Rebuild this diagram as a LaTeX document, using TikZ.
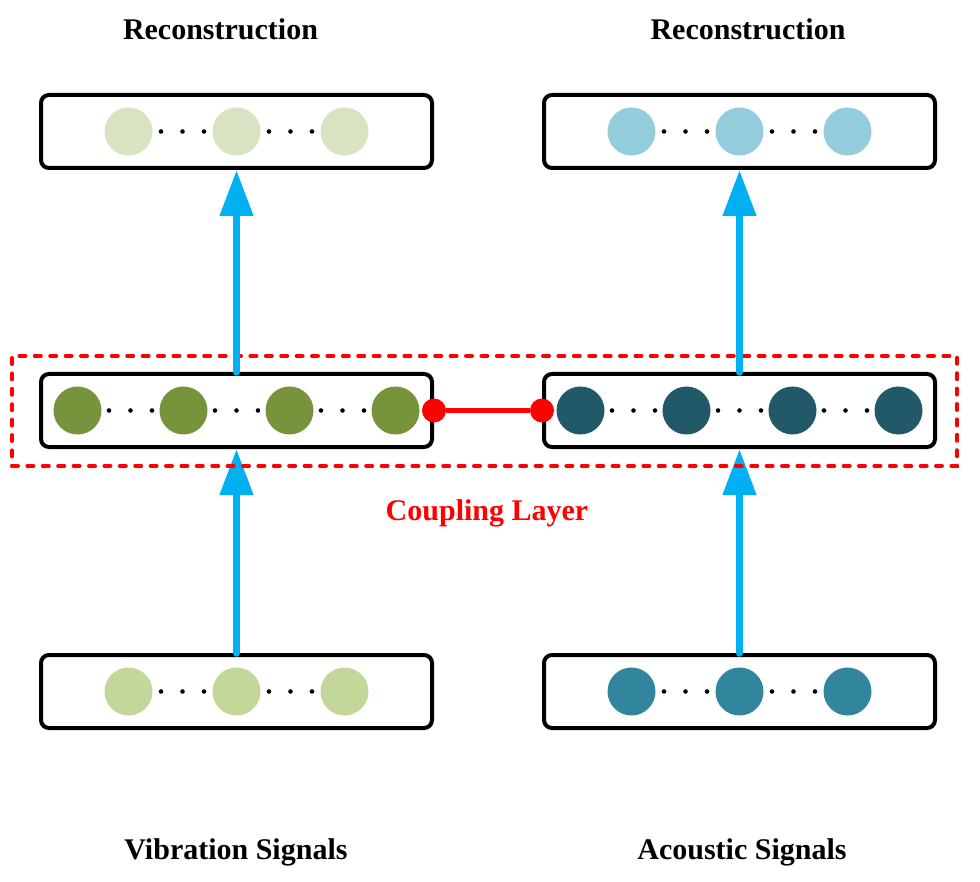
\documentclass[tikz,border=0pt]{standalone}
\usepackage{fontspec}
\setmainfont{Liberation Serif}
\usetikzlibrary{arrows.meta}
\definecolor{arrowblue}{HTML}{00B0F0}
\definecolor{gTop}{HTML}{D7E3C1}
\definecolor{gMid}{HTML}{77933C}
\definecolor{gBot}{HTML}{C4D79B}
\definecolor{bTop}{HTML}{93CDDC}
\definecolor{bMid}{HTML}{215968}
\definecolor{bBot}{HTML}{31859C}
\definecolor{cred}{HTML}{FF0000}
\begin{document}
\begin{tikzpicture}[x=1pt,y=-1pt,
  box/.style={draw=black, line width=4pt, rounded corners=8pt, minimum width=391pt, minimum height=73pt, inner sep=0pt, fill=white},
  unit/.style={circle, inner sep=0pt, minimum size=48pt},
  reddot/.style={circle, fill=cred, inner sep=0pt, minimum size=24pt},
  flow/.style={draw=arrowblue, line width=7.5pt, line cap=round, -{Triangle[width=32pt,length=46pt]}},
  redline/.style={draw=cred, line width=5pt},
  coupbox/.style={draw=cred, line width=4pt, dash pattern=on 6pt off 9.4pt, line cap=round, minimum width=945pt, minimum height=110pt, inner sep=0pt},
  lbl/.style={font=\bfseries\fontsize{30}{36}\selectfont, anchor=base, inner sep=0pt},
  dotty/.style={fill=black}
]
\useasboundingbox (0,0) rectangle (980,882);

% boxes
\node[box] (tl) at (236.5,131.5) {};
\node[box] (tr) at (739.5,131.5) {};
\node[box] (ml) at (236.5,410.5) {};
\node[box] (mr) at (739.5,410.5) {};
\node[box] (bl) at (236.5,691.5) {};
\node[box] (br) at (739.5,691.5) {};

% top & bottom rows (three units)
\foreach \row/\y/\lc/\rc in {t/131.5/gTop/bTop, b/691.5/gBot/bBot}{
  \foreach \i/\dx in {1/-108,2/0,3/108}{
    \node[unit, fill=\lc] (\row l\i) at (236.5+\dx,\y) {};
    \node[unit, fill=\rc] (\row r\i) at (739.5+\dx,\y) {};
  }
  \foreach \cx in {236.5,739.5}{
    \foreach \m in {-54,54}{
      \foreach \d in {-21.5,0,21.5}{
        \fill[dotty] (\cx+\m+\d,\y) circle (2.3pt);
      }
    }
  }
}

% middle rows (four units)
\foreach \i/\dx in {1/-159,2/-53,3/53,4/159}{
  \node[unit, fill=gMid] (ml\i) at (236.5+\dx,410.5) {};
  \node[unit, fill=bMid] (mr\i) at (739.5+\dx,410.5) {};
}
\foreach \cx in {236.5,739.5}{
  \foreach \m in {-106,0,106}{
    \foreach \d in {-21.5,0,21.5}{
      \fill[dotty] (\cx+\m+\d,410.5) circle (2.3pt);
    }
  }
}

% lower arrows
\draw[flow] (bl.north) -- (ml.south);
\draw[flow] (br.north) -- (mr.south);

% coupling layer
\node[coupbox] (coup) at (484.5,411) {};
\node[reddot] (rl) at (ml.east) {};
\node[reddot] (rr) at (mr.west) {};
\draw[redline] (rl) -- (rr);

% upper arrows
\draw[flow] (ml.north) -- (tl.south);
\draw[flow] (mr.north) -- (tr.south);

% labels
\node[lbl] (rec1) at (220.5,40) {Reconstruction};
\node[lbl] (rec2) at (748,40) {Reconstruction};
\node[lbl, text=cred] (cl) at (487,520) {Coupling Layer};
\node[lbl] (vib) at (236,859) {Vibration Signals};
\node[lbl] (aco) at (742,859) {Acoustic Signals};
\end{tikzpicture}
\end{document}
